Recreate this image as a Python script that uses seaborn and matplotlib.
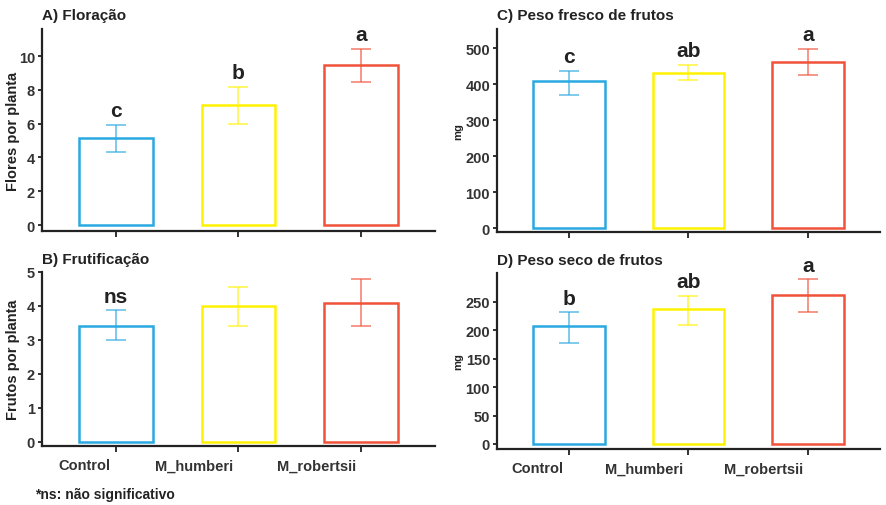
import numpy as np
import pandas as pd
import matplotlib
matplotlib.use("Agg")
import matplotlib.pyplot as plt
import matplotlib.transforms as mtransforms
import seaborn as sns

# === data ===
tratamentos = ["Control", "M_humberi", "M_robertsii"]
cores = ["#29A9E1", "#FFF200", "#F0523A"]

flores_media = [5.15, 7.1, 9.47]
flores_inf = [4.35, 6.0, 8.45]
flores_sup = [5.9, 8.15, 10.4]
flores_letras = ["c", "b", "a"]

frutos_media = [3.42, 4.0, 4.1]
frutos_inf = [3.0, 3.4, 3.42]
frutos_sup = [3.87, 4.55, 4.8]
frutos_letras = ["ns", "", ""]

fresco_media = [408, 430, 460]
fresco_inf = [370, 410, 425]
fresco_sup = [435, 452, 498]
fresco_letras = ["c", "ab", "a"]

seco_media = [207, 237, 262]
seco_inf = [178, 209, 232]
seco_sup = [232, 261, 290]
seco_letras = ["b", "ab", "a"]

sns.set_theme(style="ticks")
plt.rcParams["font.family"] = ["Liberation Sans", "DejaVu Sans"]
plt.rcParams["font.weight"] = "bold"

fig = plt.figure(figsize=(8.87, 5.06), dpi=100)

W, H = 887, 506
def px_axes(x0, y0, x1, y1):
    return fig.add_axes([x0 / W, 1 - y1 / H, (x1 - x0) / W, (y1 - y0) / H])

# ylx = pixel x of the right edge of the rotated y label
paineis = [
    dict(pos=(42, 30, 435, 232), titulo="A) Floração", ylab="Flores por planta",
         media=flores_media, inf=flores_inf, sup=flores_sup, letras=flores_letras,
         ylim=(-0.35, 11.6), ticks=[0, 2, 4, 6, 8, 10], xlab=False, ylsize=10.5, ylx=20),
    dict(pos=(42, 273, 435, 447), titulo="B) Frutificação", ylab="Frutos por planta",
         media=frutos_media, inf=frutos_inf, sup=frutos_sup, letras=frutos_letras,
         ylim=(-0.12, 5.0), ticks=[0, 1, 2, 3, 4, 5], xlab=True, ylsize=10.5, ylx=20),
    dict(pos=(497, 30, 880, 233), titulo="C) Peso fresco de frutos", ylab="mg",
         media=fresco_media, inf=fresco_inf, sup=fresco_sup, letras=fresco_letras,
         ylim=(-11, 553), ticks=[0, 100, 200, 300, 400, 500], xlab=False, ylsize=8, ylx=463),
    dict(pos=(497, 274, 880, 450), titulo="D) Peso seco de frutos", ylab="mg",
         media=seco_media, inf=seco_inf, sup=seco_sup, letras=seco_letras,
         ylim=(-9, 301), ticks=[0, 50, 100, 150, 200, 250], xlab=True, ylsize=8, ylx=463),
]

for p in paineis:
    ax = px_axes(*p["pos"])
    df = pd.DataFrame({"trat": tratamentos, "valor": p["media"]})
    sns.barplot(data=df, x="trat", y="valor", hue="trat", palette=cores,
                fill=False, linewidth=1.8, width=0.6, errorbar=None,
                legend=False, ax=ax)
    for i, t in enumerate(tratamentos):
        m = p["media"][i]
        err = [[m - p["inf"][i]], [p["sup"][i] - m]]
        ax.errorbar(i, m, yerr=err, fmt="none", ecolor=cores[i], alpha=0.65,
                    elinewidth=1.3, capsize=7.5, capthick=1.3)
        if p["letras"][i]:
            ax.text(i, p["sup"][i] + (p["ylim"][1] - p["ylim"][0]) * 0.025,
                    p["letras"][i], ha="center", va="bottom", fontsize=15,
                    fontweight="bold", color="#222222")
    ax.set_xlim(-0.6, 2.6)
    ax.set_ylim(*p["ylim"])
    ax.set_yticks(p["ticks"])
    ax.set_xlabel("")
    ax.set_ylabel(p["ylab"], fontsize=p["ylsize"], fontweight="bold", color="#222222")
    x0, y0, x1, y1 = p["pos"]
    ax.yaxis.set_label_coords((p["ylx"] - x0) / (x1 - x0), 0.5)
    ax.text(0.0, 1.035, p["titulo"], transform=ax.transAxes, fontsize=11,
            fontweight="bold", color="#222222", ha="left", va="bottom")
    sns.despine(ax=ax)
    for s in ["left", "bottom"]:
        ax.spines[s].set_linewidth(1.6)
        ax.spines[s].set_color("#222222")
    ax.tick_params(axis="y", length=3, width=1.3, color="#222222",
                   labelsize=10.5, labelcolor="#333333", pad=2)
    ax.tick_params(axis="x", length=4, width=1.3, color="#222222",
                   labelsize=10.5, labelcolor="#333333", pad=5)
    for lbl in ax.get_yticklabels():
        lbl.set_fontweight("bold")
    if not p["xlab"]:
        ax.set_xticklabels([])
    else:
        shift = mtransforms.ScaledTranslation(-5 / 100, 0, fig.dpi_scale_trans)
        for lbl in ax.get_xticklabels():
            lbl.set_fontweight("bold")
            lbl.set_ha("right")
            lbl.set_transform(lbl.get_transform() + shift)

fig.text(35 / W, 1 - 495 / H, "*ns: não significativo", fontsize=10,
         fontweight="bold", color="#222222", ha="left", va="center")

fig.savefig("out.png", dpi=100)
